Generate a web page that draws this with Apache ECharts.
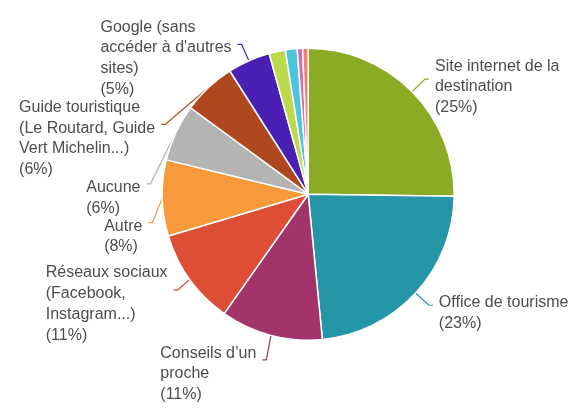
<!DOCTYPE html>
<html><head><meta charset="utf-8">
<script src="https://cdn.jsdelivr.net/npm/echarts@6/dist/echarts.min.js"></script>
<style>html,body{margin:0;padding:0;background:#fff}#c{width:587px;height:408px}</style>
</head><body><div id="c"></div>
<script>
const categories = [
  "Site internet de la\ndestination",
  "Office de tourisme",
  "Conseils d\u2019un\nproche",
  "Réseaux sociaux\n(Facebook,\nInstagram...)",
  "Autre",
  "Aucune",
  "Guide touristique\n(Le Routard, Guide\nVert Michelin...)",
  "Google (sans\naccéder à d'autres\nsites)",
  "Presse",
  "Brochures",
  "Télévision",
  "Salons"
];
const values = [25.2, 23.2, 11.3, 10.6, 8.4, 6.3, 5.9, 4.7, 1.8, 1.3, 0.6, 0.6];
const colors = ["#8aab24","#2596a8","#a2346b","#de4d36","#f89a3c","#b4b4b4","#b0481f","#4a1fb3","#bcd94b","#4ec5e0","#d170ab","#f47f6b"];
const labelled = [true,true,true,true,true,true,true,true,false,false,false,false];

const data = categories.map((n,i)=>({
  name:n, value:values[i],
  itemStyle:{color:colors[i]},
  label:{show:labelled[i]},
  labelLine:{show:labelled[i], lineStyle:{color:colors[i]}}
}));

const chart = echarts.init(document.getElementById('c'));
chart.setOption({
  animation:false,
  series:[{
    type:'pie',
    center:['52.5%','47.6%'],
    radius:146,
    startAngle:90,
    clockwise:true,
    data:data,
    itemStyle:{borderColor:'#fff',borderWidth:1.5},
    label:{
      position:'outside',
      distanceToLabelLine:6,
      formatter:function(p){
        return p.name.split('\n').map(l=>'{t|'+l+'}').join('\n')+'\n{t|('+Math.round(p.percent)+'%)}';
      },
      rich:{t:{align:'left',fontSize:16,lineHeight:20.7,color:'#4d4d4d',fontFamily:'Liberation Sans, Arial, sans-serif'}}
    },
    labelLine:{length:18,length2:4,lineStyle:{width:1.2}},
    labelLayout:function(p){
      const pts = p.labelLinePoints;
      const leftSide = pts && pts[2][0] < pts[0][0];
      return {dy: leftSide ? 14 : 8};
    }
  }]
});
</script></body></html>
